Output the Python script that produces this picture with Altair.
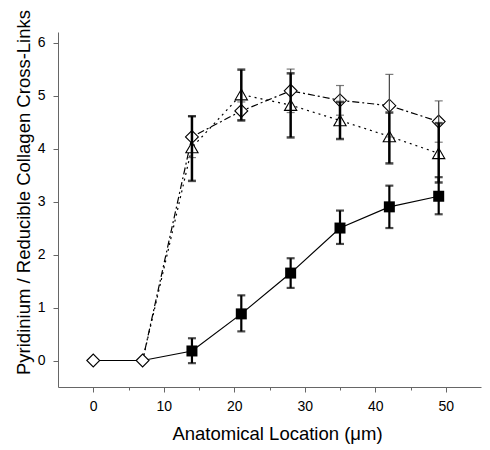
import altair as alt
import pandas as pd

x_pos = [0, 7, 14, 21, 28, 35, 42, 49]

square_y = [0, 0, 0.18, 0.88, 1.65, 2.50, 2.90, 3.10]
square_hi = [None, None, 0.42, 1.23, 1.93, 2.83, 3.30, 3.46]
square_lo = [None, None, -0.05, 0.55, 1.37, 2.20, 2.50, 2.76]

diamond_y = [0, 0, 4.22, 4.71, 5.09, 4.91, 4.81, 4.51]
diamond_hi = [None, None, 4.61, 4.88, 5.50, 5.19, 5.40, 4.90]
diamond_lo = [None, None, 3.83, 4.54, 4.68, 4.63, 4.22, 4.12]

triangle_y = [0, 0, 4.02, 5.02, 4.82, 4.53, 4.23, 3.91]
triangle_hi = [None, None, 4.61, 5.49, 5.42, 4.88, 4.68, 4.48]
triangle_lo = [None, None, 3.39, 4.53, 4.21, 4.18, 3.72, 3.36]

x_title = "Anatomical Location (\u03bcm)"
y_title = "Pyridinium / Reducible Collagen Cross-Links"

x_ticks = [0, 5, 10, 15, 20, 25, 30, 35, 40, 45, 50]
y_ticks = [0, 0.5, 1, 1.5, 2, 2.5, 3, 3.5, 4, 4.5, 5, 5.5, 6]


def frame(ys, his, los):
    return pd.DataFrame({"x": x_pos, "y": ys, "hi": his, "lo": los})


sq = frame(square_y, square_hi, square_lo)
di = frame(diamond_y, diamond_hi, diamond_lo)
tr = frame(triangle_y, triangle_hi, triangle_lo)

xs = alt.Scale(domain=[-5, 55], nice=False, zero=False)
ys = alt.Scale(domain=[-0.5, 6.2], nice=False, zero=False)

X = alt.X("x:Q", scale=xs, title=x_title,
          axis=alt.Axis(values=x_ticks, labelExpr="datum.value % 10 === 0 ? datum.label : ''",
                        labelOverlap=False,
                        tickSize={"condition": {"test": "datum.value % 10 === 0", "value": 5}, "value": 3},
                        titleX=219, titlePadding=11, labelPadding=7))
Y = alt.Y("y:Q", scale=ys, title=y_title,
          axis=alt.Axis(values=y_ticks, labelExpr="datum.value % 1 === 0 ? datum.label : ''",
                        labelOverlap=False, format="d",
                        tickSize={"condition": {"test": "datum.value % 1 === 0", "value": 5}, "value": 4},
                        titleY=160, titlePadding=4, labelPadding=8))


def line(df, dash):
    kw = {"color": "black", "strokeWidth": 1.2}
    if dash:
        kw["strokeDash"] = dash
    return alt.Chart(df).mark_line(**kw).encode(x=X, y=Y)


def bars(df, color, width):
    d = alt.Chart(df).transform_filter("datum.hi != null")
    rule = d.mark_rule(color=color, strokeWidth=width).encode(x="x:Q", y="lo:Q", y2="hi:Q")
    cap_hi = d.mark_tick(color=color, orient="horizontal", size=8, thickness=width).encode(x="x:Q", y="hi:Q")
    cap_lo = d.mark_tick(color=color, orient="horizontal", size=8, thickness=width).encode(x="x:Q", y="lo:Q")
    return rule + cap_hi + cap_lo


sq_pts = alt.Chart(sq).transform_filter("datum.x > 7").mark_point(
    shape="square", filled=True, color="black", size=121, opacity=1).encode(x="x:Q", y="y:Q")
tr_pts = alt.Chart(tr).transform_filter("datum.x > 7").mark_point(
    shape="triangle-up", filled=True, fill="white", stroke="black", strokeWidth=1.1, size=150, opacity=1
).encode(x="x:Q", y="y:Q")
di_pts = alt.Chart(di).mark_point(
    shape="diamond", filled=True, fill="white", stroke="black", strokeWidth=1.1, size=165, opacity=1
).encode(x="x:Q", y="y:Q")

chart = alt.layer(
    line(sq, None),
    line(tr, [2, 4]),
    line(di, [7, 3, 2, 3]),
    sq_pts,
    tr_pts,
    di_pts,
    bars(di, "#444444", 1.2),
    bars(tr, "black", 2.5),
    bars(sq, "black", 2.2),
).properties(
    width=423, height=355,
    autosize=alt.AutoSizeParams(type="none"),
    padding={"left": 50, "top": 24, "right": 1, "bottom": 62},
).configure_view(stroke=None).configure_axis(
    grid=False,
    labelOverlap=False,
    domainColor="#666666",
    tickColor="#666666",
    labelColor="black",
    titleColor="black",
    labelFont="Liberation Sans",
    titleFont="Liberation Sans",
    labelFontSize=14,
    titleFontSize=18.5,
    titleFontWeight="normal",
)

chart.save("out.html", embed_options={"renderer": "svg", "actions": False})
